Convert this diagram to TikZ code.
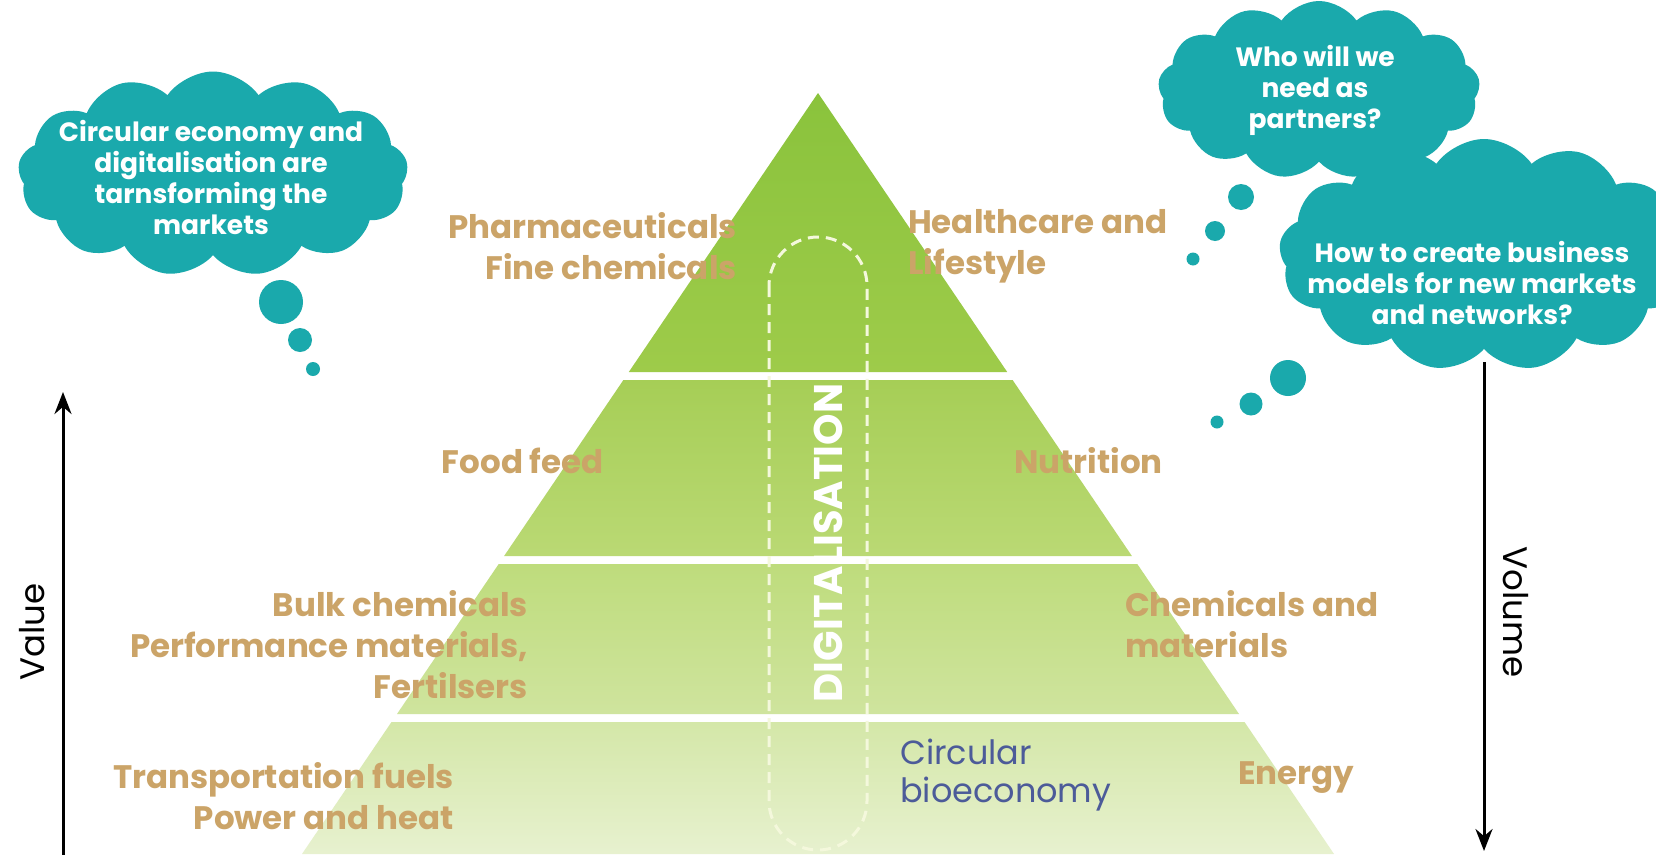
\documentclass[tikz,border=0pt]{standalone}
\usepackage{fontspec}
\setmainfont{Poppins}
\usetikzlibrary{shapes.symbols,arrows.meta}
\definecolor{cloudteal}{RGB}{26,169,172}
\definecolor{tan}{RGB}{203,164,104}
\definecolor{slate}{RGB}{76,91,153}
\definecolor{gA}{RGB}{138,195,60}
\definecolor{gB}{RGB}{158,203,74}
\definecolor{gC}{RGB}{166,206,86}
\definecolor{gD}{RGB}{186,217,116}
\definecolor{gE}{RGB}{190,220,124}
\definecolor{gF}{RGB}{207,228,158}
\definecolor{gG}{RGB}{212,231,168}
\definecolor{gH}{RGB}{231,241,207}
\definecolor{pill}{RGB}{244,248,220}
\tikzset{
  lbl/.style={font=\bfseries\fontsize{32.5}{41}\selectfont, text=tan, inner sep=0pt},
  lblreg/.style={font=\fontsize{33.5}{38}\selectfont, text=slate, inner sep=0pt, align=left},
  cloudtxt/.style={font=\bfseries\fontsize{26.5}{31}\selectfont, text=white, align=center, inner sep=0pt},
  thought/.style={cloud, cloud puffs=13, cloud puff arc=110, cloud ignores aspect, fill=cloudteal, draw=none, inner sep=0pt},
  bub/.style={circle, fill=cloudteal, draw=none, inner sep=0pt},
  axisarrow/.style={line width=3pt, -{Stealth[length=22pt,width=17pt]}},
  axislbl/.style={font=\fontsize{34}{38}\selectfont, text=black, inner sep=0pt},
  dashpill/.style={draw=pill, line width=3pt, dash pattern=on 11pt off 7pt, rounded corners=49pt},
}
\begin{document}
\begin{tikzpicture}[x=1pt,y=-1pt]
\useasboundingbox (0,0) rectangle (1656,854);
\clip (0,0) rectangle (1656,854);
\fill[white] (0,0) rectangle (1656,854);
% pyramid tiers
\path[top color=gA, bottom color=gB] (818,93) -- (1007.2,372) -- (628.8,372) -- cycle;
\path[top color=gC, bottom color=gD] (623.4,380) -- (1012.6,380) -- (1131.9,556) -- (504.1,556) -- cycle;
\path[top color=gE, bottom color=gF] (498.7,564) -- (1137.3,564) -- (1239,714) -- (397,714) -- cycle;
\path[top color=gG, bottom color=gH] (391.5,722) -- (1244.5,722) -- (1334,854) -- (302,854) -- cycle;
% digitalisation pill
\draw[dashpill] (769,237) rectangle (867,850);
\node[font=\bfseries\fontsize{40}{42}\selectfont, text=white, rotate=90, inner sep=0pt] (dig) at (828,543) {DIGITALISATION};
% labels
\node[lbl, anchor=east, align=right] (pharma) at (737,246) {Pharmaceuticals\\Fine chemicals};
\node[lbl, anchor=west, align=left] (health) at (908,246) {Healthcare and\\Lifestyle};
\node[lbl, anchor=east] (food) at (604,461) {Food feed};
\node[lbl, anchor=west] (nutri) at (1014,461) {Nutrition};
\node[lbl, anchor=east, align=right] (bulk) at (528,645) {Bulk chemicals\\Performance materials,\\Fertilsers};
\node[lbl, anchor=west, align=left] (chem) at (1125,624) {Chemicals and\\materials};
\node[lbl, anchor=east, align=right] (trans) at (454,796) {Transportation fuels\\Power and heat};
\node[lblreg, anchor=west] (circ) at (900,775) {Circular\\bioeconomy};
\node[lbl, anchor=west] (energy) at (1238,778) {Energy};
% clouds
\node[thought, minimum width=390pt, minimum height=205pt] (c1) at (213,174) {};
\node[cloudtxt] (t1) at (211,177) {Circular economy and\\digitalisation are\\tarnsforming the\\markets};
\node[bub, minimum size=44pt] (b1a) at (281,302) {};
\node[bub, minimum size=24pt] (b1b) at (300,340) {};
\node[bub, minimum size=14pt] (b1c) at (313,369) {};
\node[thought, minimum width=322pt, minimum height=178pt] (c2) at (1319,90) {};
\node[cloudtxt] (t2) at (1315,90) {Who will we\\need as\\partners?};
\node[bub, minimum size=26pt] (b2a) at (1241,197) {};
\node[bub, minimum size=20pt] (b2b) at (1215,231) {};
\node[bub, minimum size=13pt] (b2c) at (1193,259) {};
\node[thought, minimum width=410pt, minimum height=232pt] (c3) at (1484,255) {};
\node[cloudtxt] (t3) at (1472,283) {How to create business\\models for new markets\\and networks?};
\node[bub, minimum size=36pt] (b3a) at (1288,378) {};
\node[bub, minimum size=23pt] (b3b) at (1251,404) {};
\node[bub, minimum size=13pt] (b3c) at (1217,422) {};
% axes
\coordinate (vbot) at (63,858);
\coordinate (vtop) at (63,392);
\draw[axisarrow] (vbot) -- (vtop);
\node[axislbl, rotate=90] (value) at (32,632) {Value};
\coordinate (wtop) at (1484,362);
\coordinate (wbot) at (1484,851);
\draw[axisarrow] (wtop) -- (wbot);
\node[axislbl, rotate=-90] (volume) at (1516,612) {Volume};
\end{tikzpicture}
\end{document}
